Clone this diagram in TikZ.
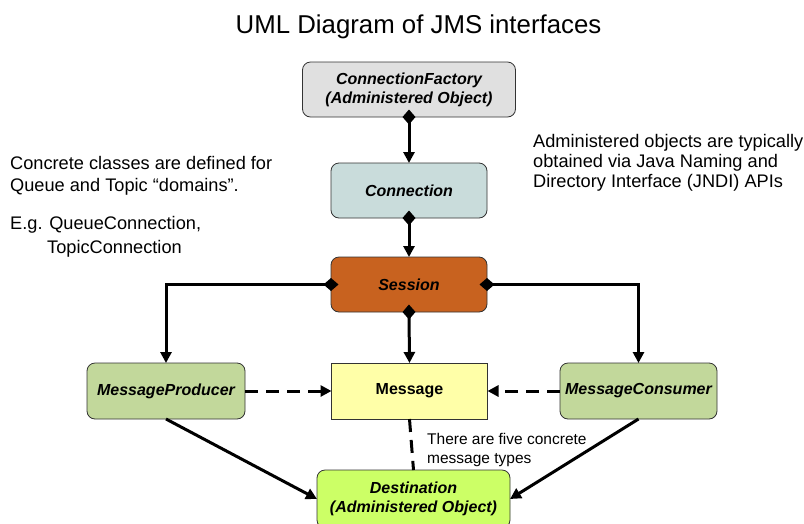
\documentclass[tikz,border=0pt]{standalone}
\usepackage{fontspec}
\setmainfont{Liberation Sans}
\usetikzlibrary{arrows.meta}
\definecolor{cfgray}{HTML}{E0E0E0}
\definecolor{conncol}{HTML}{C9DCDB}
\definecolor{sesscol}{HTML}{C8621F}
\definecolor{greencol}{HTML}{C2D89B}
\definecolor{msgcol}{HTML}{FFFFA8}
\definecolor{destcol}{HTML}{CCFF66}
\definecolor{bordercol}{HTML}{333333}
\tikzset{
  box/.style={draw=bordercol, line width=0.8pt, rounded corners=8pt, inner sep=0pt, outer sep=0pt,
    align=center, font=\bfseries\itshape\fontsize{16}{19}\selectfont},
  plainbox/.style={box, rounded corners=0pt, font=\bfseries\fontsize{16}{19}\selectfont},
  conn/.style={line width=3pt, -{Triangle[length=11pt,width=11pt]}},
  comp/.style={line width=3pt, {Diamond[length=15pt,width=13pt]}-{Triangle[length=11pt,width=11pt]}, shorten <=-7.5pt},
  dep/.style={line width=3pt, dash pattern=on 13pt off 8pt, -{Triangle[length=11pt,width=11pt]}},
  link/.style={line width=3pt, dash pattern=on 13pt off 8pt},
  sidetext/.style={anchor=base west, inner sep=0pt, font=\fontsize{18.2}{21}\selectfont},
  notetext/.style={anchor=base west, inner sep=0pt, font=\fontsize{15.5}{19}\selectfont},
}
\begin{document}
\begin{tikzpicture}[x=1pt,y=-1pt]
\useasboundingbox[fill=white] (0,0) rectangle (804,523);

\node[anchor=base, inner sep=0pt, font=\fontsize{25.8}{30}\selectfont] (title) at (418.5,33) {UML Diagram of JMS interfaces};

\node[box, fill=cfgray, minimum width=213pt, minimum height=55pt] (cf) at (409,89.5) {ConnectionFactory\\(Administered Object)};
\node[box, fill=conncol, minimum width=156pt, minimum height=55pt] (cn) at (409,190.5) {Connection};
\node[box, fill=sesscol, minimum width=156pt, minimum height=55pt] (ss) at (409,284.5) {Session};
\node[box, fill=greencol, minimum width=158pt, minimum height=56pt] (mp) at (166,391) {MessageProducer};
\node[plainbox, fill=msgcol, minimum width=156pt, minimum height=56pt] (msg) at (409.5,391) {Message};
\node[box, fill=greencol, minimum width=157pt, minimum height=56pt] (mc) at (638.5,391) {MessageConsumer};
\node[box, fill=destcol, minimum width=193pt, minimum height=58pt] (dest) at (413.5,499) {Destination\\(Administered Object)};

\draw[comp] (cf.south -| cn.north) -- (cn.north);
\draw[comp] (cn.south) -- (ss.north);
\draw[comp] (ss.south) -- (msg.north);
\draw[comp] (ss.west) -| (mp.north);
\draw[comp] (ss.east) -| (mc.north);
\draw[dep] (mp.east) -- (msg.west);
\draw[dep] (mc.west) -- (msg.east);
\draw[link] (msg.south) -- (dest.north);
\draw[conn] (mp.south) -- (dest.west);
\draw[conn] (mc.south) -- (dest.east);

\node[sidetext] (l1) at (10,169) {Concrete classes are defined for};
\node[sidetext] (l2) at (10,191) {Queue and Topic “domains”.};
\node[sidetext] (l3) at (10,229) {E.g. QueueConnection,};
\node[sidetext] (l4) at (47,253) {TopicConnection};

\node[sidetext] (r1) at (533,147) {Administered objects are typically};
\node[sidetext] (r2) at (533,167) {obtained via Java Naming and};
\node[sidetext] (r3) at (533,187) {Directory Interface (JNDI) APIs};

\node[notetext] (n1) at (427,444) {There are five concrete};
\node[notetext] (n2) at (427,463) {message types};
\end{tikzpicture}
\end{document}
